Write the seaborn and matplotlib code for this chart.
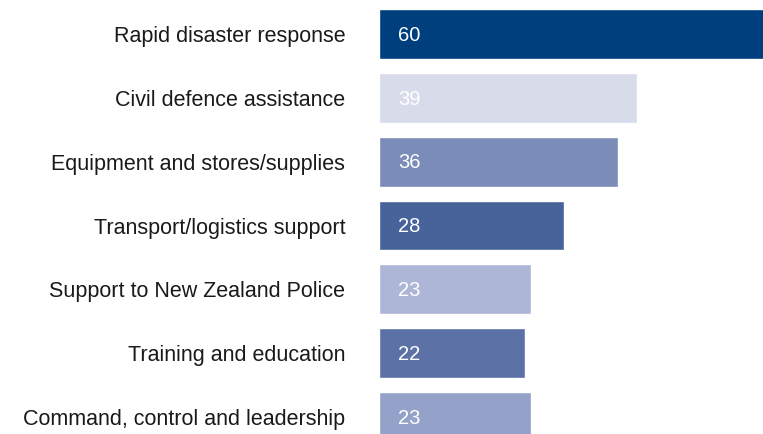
import matplotlib
matplotlib.use("Agg")
import matplotlib.pyplot as plt
import seaborn as sns
import pandas as pd

categories = [
    "Rapid disaster response",
    "Civil defence assistance",
    "Equipment and stores/supplies",
    "Transport/logistics support",
    "Support to New Zealand Police",
    "Training and education",
    "Command, control and leadership",
]
values = [60, 39, 36, 28, 23, 22, 23]
colors = ["#003F7E", "#D8DCEA", "#7B8CB8", "#47639A", "#ADB6D6", "#5C72A6", "#94A1C8"]

df = pd.DataFrame({"category": categories, "value": values})

sns.set_theme(style="white")
plt.rcParams["font.family"] = ["Liberation Sans", "DejaVu Sans"]

W, H = 763, 434
fig = plt.figure(figsize=(W / 100, H / 100), dpi=100)
left = 378.5 / W
right = (378.5 + 60 * 6.64) / W
bottom = 1 - 448.9 / H
top = 1 - 2.1 / H
ax = fig.add_axes([left, bottom, right - left, top - bottom])

sns.barplot(data=df, x="value", y="category", hue="category",
            palette=dict(zip(categories, colors)), orient="h",
            width=0.78, dodge=False, legend=False, ax=ax, saturation=1)

ax.set_xlim(0, 60)
ax.set_ylim(6.5, -0.5)
ax.set_xlabel("")
ax.set_ylabel("")
ax.set_xticks([])
ax.tick_params(axis="y", length=0, pad=24, labelsize=15.5, labelcolor="#1a1a1a")
for s in ax.spines.values():
    s.set_visible(False)

for i, v in enumerate(values):
    ax.text(3.0, i + 0.02, str(v), color="white", fontsize=14.5, va="center", ha="left")

fig.savefig("out.png", dpi=100)
